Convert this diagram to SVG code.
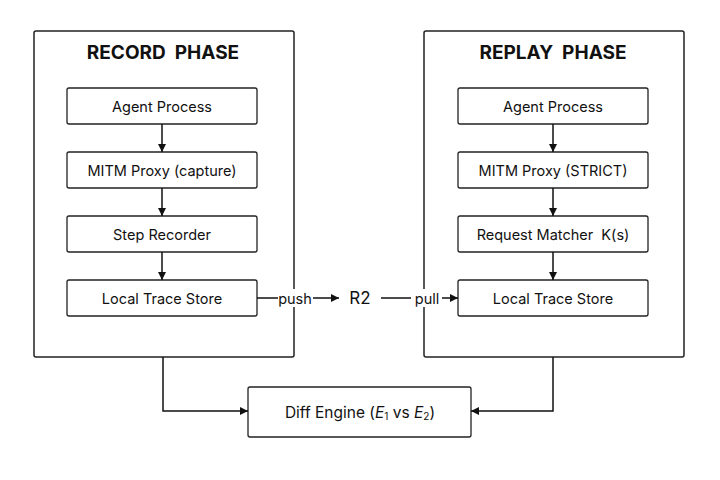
<svg xmlns="http://www.w3.org/2000/svg" width="720" height="480" viewBox="0 0 720 480">
<defs>
<marker id="ah" viewBox="0 0 10 10" refX="10" refY="5" markerWidth="8" markerHeight="8" markerUnits="userSpaceOnUse" orient="auto">
<path d="M0,0 L10,5 L0,10 z" fill="#111"/>
</marker>
<style>
.panel{fill:#fff;stroke:#222;stroke-width:1.5}
.box{fill:#fff;stroke:#222;stroke-width:1.3}
.t{font-family:Inter,"Liberation Sans",sans-serif;font-size:14.5px;fill:#111;text-anchor:middle;dominant-baseline:central}
.title{font-family:Inter,"Liberation Sans",sans-serif;font-size:19px;font-weight:bold;fill:#111;text-anchor:middle;dominant-baseline:central}
.c{fill:none;stroke:#111;stroke-width:1.5}
</style>
</defs>
<rect width="720" height="480" fill="#fff"/>
<g id="record-phase">
<rect class="panel" x="34" y="31" width="260" height="326" rx="2"/>
<text class="title" x="163" y="52" xml:space="preserve">RECORD  PHASE</text>
</g>
<g id="replay-phase">
<rect class="panel" x="424" y="31" width="260" height="326" rx="2"/>
<text class="title" x="553" y="52" xml:space="preserve">REPLAY  PHASE</text>
</g>
<g id="rec-agent"><rect class="box" x="67" y="88" width="190" height="36" rx="2"/><text class="t" x="162" y="106">Agent Process</text></g>
<g id="rec-mitm"><rect class="box" x="67" y="152" width="190" height="36" rx="2"/><text class="t" x="162" y="170">MITM Proxy (capture)</text></g>
<g id="rec-step"><rect class="box" x="67" y="216" width="190" height="36" rx="2"/><text class="t" x="162" y="234">Step Recorder</text></g>
<g id="rec-store"><rect class="box" x="67" y="280" width="190" height="36" rx="2"/><text class="t" x="162" y="298">Local Trace Store</text></g>
<g id="rep-agent"><rect class="box" x="458" y="88" width="190" height="36" rx="2"/><text class="t" x="553" y="106">Agent Process</text></g>
<g id="rep-mitm"><rect class="box" x="458" y="152" width="190" height="36" rx="2"/><text class="t" x="553" y="170">MITM Proxy (STRICT)</text></g>
<g id="rep-matcher"><rect class="box" x="458" y="216" width="190" height="36" rx="2"/><text class="t" x="553" y="234" xml:space="preserve">Request Matcher  K(s)</text></g>
<g id="rep-store"><rect class="box" x="458" y="280" width="190" height="36" rx="2"/><text class="t" x="553" y="298">Local Trace Store</text></g>
<g id="r2"><text class="t" x="360" y="298" style="font-size:17px">R2</text></g>
<g id="diff"><rect class="box" x="248" y="387" width="223" height="50" rx="2"/>
<text class="t" x="360" y="412" style="font-size:15.5px">Diff Engine (<tspan font-style="italic">E</tspan><tspan font-size="10" dy="4">1</tspan><tspan dy="-4"> vs </tspan><tspan font-style="italic">E</tspan><tspan font-size="10" dy="4">2</tspan><tspan dy="-4">)</tspan></text></g>
<g id="connectors">
<line class="c" x1="162" y1="124" x2="162" y2="152" marker-end="url(#ah)"/>
<line class="c" x1="162" y1="188" x2="162" y2="216" marker-end="url(#ah)"/>
<line class="c" x1="162" y1="252" x2="162" y2="280" marker-end="url(#ah)"/>
<line class="c" x1="553" y1="124" x2="553" y2="152" marker-end="url(#ah)"/>
<line class="c" x1="553" y1="188" x2="553" y2="216" marker-end="url(#ah)"/>
<line class="c" x1="553" y1="252" x2="553" y2="280" marker-end="url(#ah)"/>
<line class="c" x1="257" y1="298" x2="278" y2="298"/>
<rect x="280" y="289" width="30" height="18" fill="#fff"/>
<text class="t" x="295" y="298">push</text>
<line class="c" x1="313" y1="298" x2="339" y2="298" marker-end="url(#ah)"/>
<line class="c" x1="381" y1="298" x2="411" y2="298"/>
<rect x="413" y="289" width="28" height="18" fill="#fff"/>
<text class="t" x="427" y="298">pull</text>
<line class="c" x1="442" y1="298" x2="458" y2="298" marker-end="url(#ah)"/>
<polyline class="c" points="163,357 163,411 248,411" marker-end="url(#ah)"/>
<polyline class="c" points="553,357 553,411 471,411" marker-end="url(#ah)"/>
</g>
</svg>
